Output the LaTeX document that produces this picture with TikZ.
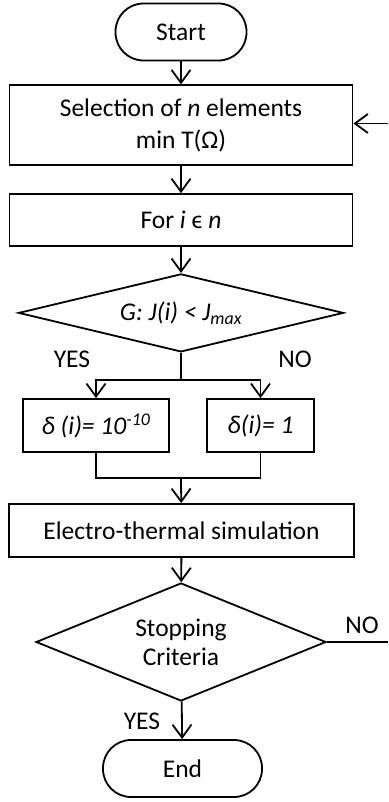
\documentclass[tikz,border=0pt]{standalone}
\usepackage{fontspec}
\setmainfont{Carlito}
\usetikzlibrary{arrows.meta, shapes.geometric, positioning}

\begin{document}
\begin{tikzpicture}[x=1pt, y=-1pt, line width=1.8pt]
	\tikzset{>={Straight Barb[length=13pt, width=19pt]},
		every node/.style={font=\fontsize{25.5}{32}\selectfont},
		terminal/.style={draw, rounded corners=28pt, minimum height=57pt, inner sep=0pt},
		process/.style={draw, minimum width=343pt, inner sep=0pt, align=center},
		decision/.style={draw, diamond, inner sep=0pt, align=center},
		lbl/.style={inner sep=0pt} }
	\useasboundingbox (0,0) rectangle (388,802);
	
	\node[terminal, minimum width=131pt] (start) at (181,32) {Start};
	\node[process, minimum height=80pt, below=23pt of start] (select) {Selection of \textit{n} elements\\min T(Ω)};
	\node[process, minimum height=52pt, below=27pt of select] (loop) {For \textit{i} ϵ \textit{n}};
	\node[decision, aspect=4.17, minimum width=325pt, minimum height=78pt, below=26pt of loop] (check) {\textit{G: J(i) < J\textsubscript{max}}};
	\coordinate[below=27pt of check] (split);
	\node[process, minimum width=146pt, minimum height=53pt] (low) at (96,425.5) {\textit{δ (i)= 10\textsuperscript{-10}}};
	\node[process, minimum width=107pt, minimum height=53pt] (high) at (260.5,425.5) {\textit{δ(i)= 1}};
	\coordinate (join) at (181,478);
	\node[process, minimum width=345pt, minimum height=53pt] (sim) at (181.5,530.5) {Electro-thermal simulation};
	\node[decision, aspect=2.46, minimum width=290pt, minimum height=118pt, font=\fontsize{25.5}{29}\selectfont] (stop) at (181,642) {Stopping\\Criteria};
	\node[terminal, minimum width=159pt] (finish) at (182.5,768.5) {End};
	\coordinate (exit) at (388,642);
	\coordinate (entry) at (388,123.5);
	
	\node[lbl] (yes1) at (72,359) {YES};
	\node[lbl] (no1) at (295,359) {NO};
	\node[lbl] (no2) at (362,625) {NO};
	\node[lbl] (yes2) at (142,721) {YES};
	
	\draw[->] (start) -- (select);
	\draw[->] (select) -- (loop);
	\draw[->] (loop) -- (check);
	\draw (check.south) -- (split);
	\draw[->] (split) -| (low.north);
	\draw[->] (split) -| (high.north);
	\draw (low.south) |- (join) -| (high.south);
	\draw[->] (join) -- (sim);
	\draw[->] (sim) -- (stop);
	\draw[->] (stop) -- (finish);
	\draw (stop.east) -- (exit);
	\draw[->] (entry) -- (select.east |- entry);
\end{tikzpicture}
\end{document}
